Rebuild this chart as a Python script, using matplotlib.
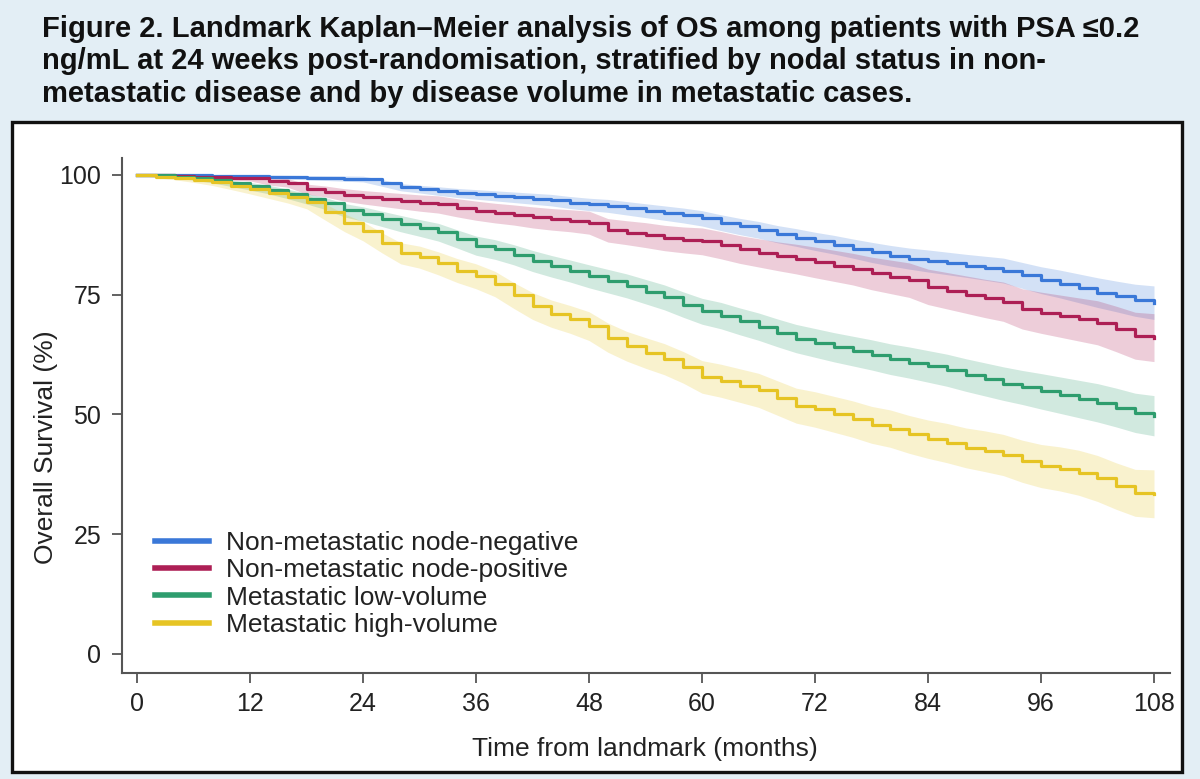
import numpy as np
import matplotlib
matplotlib.use("Agg")
import matplotlib.pyplot as plt
from matplotlib.patches import Rectangle

plt.rcParams['font.family'] = ['Liberation Sans', 'DejaVu Sans']

# time grid (months from landmark), survival
months = list(range(0, 110, 2))

node_neg = [100, 100, 100, 99.9, 99.8, 99.7, 99.7, 99.6, 99.5, 99.4, 99.3, 99.2, 99.1, 98.3,
            97.4, 97.0, 96.6, 96.2, 95.9, 95.6, 95.3, 95.0, 94.7, 94.2, 93.8, 93.5, 93.0, 92.5,
            92.0, 91.5, 90.9, 90.0, 89.2, 88.5, 87.6, 86.9, 86.1, 85.4, 84.6, 83.8, 83.1, 82.5,
            82.0, 81.5, 81.0, 80.5, 80.0, 79.0, 78.0, 77.2, 76.3, 75.4, 74.6, 73.8, 73.3]
node_pos = [100, 100, 99.8, 99.6, 99.5, 99.4, 99.3, 98.6, 98.3, 97.0, 96.5, 95.8, 95.3, 94.9,
            94.5, 94.1, 93.8, 93.1, 92.5, 92.0, 91.6, 91.1, 90.7, 90.4, 90.0, 88.4, 87.9, 87.4,
            86.8, 86.4, 86.1, 85.3, 84.4, 83.7, 83.0, 82.4, 81.7, 81.0, 80.3, 79.4, 78.7, 78.0,
            76.6, 75.8, 75.0, 74.2, 73.5, 72.0, 71.2, 70.5, 69.8, 69.1, 67.8, 66.4, 66.0]
low_vol = [100, 99.9, 99.6, 99.3, 98.8, 98.2, 97.6, 96.9, 96.0, 95.0, 94.0, 92.6, 91.8, 90.8,
           89.8, 88.9, 88.0, 86.6, 85.2, 84.4, 83.3, 82.0, 80.9, 79.9, 78.8, 77.8, 76.8, 75.6,
           74.4, 72.9, 71.5, 70.6, 69.4, 68.3, 67.0, 65.8, 64.9, 64.0, 63.2, 62.4, 61.5, 60.8,
           60.0, 59.2, 58.2, 57.3, 56.4, 55.6, 54.8, 54.0, 53.2, 52.4, 51.4, 50.3, 49.7]
high_vol = [100, 99.6, 99.3, 98.9, 98.4, 97.7, 97.0, 96.2, 95.4, 94.4, 92.2, 90.0, 88.2, 85.8,
            83.6, 82.8, 81.5, 80.0, 78.8, 77.2, 74.8, 72.6, 71.0, 69.8, 68.4, 66.0, 64.2, 62.8,
            61.5, 59.8, 57.8, 57.0, 56.0, 55.0, 53.4, 51.8, 51.0, 50.0, 49.0, 47.8, 47.0, 45.8,
            44.8, 44.0, 43.0, 42.3, 41.5, 40.2, 39.2, 38.6, 37.8, 36.6, 35.0, 33.6, 33.4]

# half width of the 95% CI bands
ci_neg = [0, 0.05, 0.1, 0.15, 0.2, 0.25, 0.3, 0.35, 0.4, 0.45, 0.5, 0.55, 0.6, 0.7, 0.75, 0.8,
          0.9, 0.95, 1.0, 1.05, 1.1, 1.15, 1.2, 1.25, 1.3, 1.35, 1.4, 1.45, 1.5, 1.55, 1.6, 1.65,
          1.7, 1.75, 1.8, 1.85, 1.9, 1.95, 2.0, 2.1, 2.15, 2.2, 2.3, 2.35, 2.4, 2.5, 2.6, 2.7,
          2.8, 2.9, 3.0, 3.1, 3.2, 3.35, 3.5]
ci_pos = [0, 0.1, 0.2, 0.3, 0.4, 0.5, 0.6, 0.75, 0.9, 1.05, 1.15, 1.3, 1.4, 1.5, 1.6, 1.7,
          1.8, 1.9, 2.0, 2.05, 2.1, 2.2, 2.25, 2.3, 2.4, 2.45, 2.5, 2.6, 2.65, 2.7, 2.8, 2.85,
          2.9, 2.95, 3.0, 3.1, 3.2, 3.25, 3.3, 3.4, 3.5, 3.6, 3.7, 3.8, 3.9, 4.0, 4.1, 4.2,
          4.3, 4.4, 4.5, 4.6, 4.75, 4.9, 5.0]
ci_low = [0, 0.15, 0.3, 0.4, 0.5, 0.65, 0.8, 0.9, 1.0, 1.1, 1.25, 1.4, 1.5, 1.6, 1.7, 1.75,
          1.85, 1.9, 2.0, 2.05, 2.1, 2.2, 2.25, 2.3, 2.4, 2.45, 2.5, 2.55, 2.6, 2.65, 2.7, 2.75,
          2.8, 2.85, 2.9, 2.95, 3.0, 3.05, 3.1, 3.15, 3.2, 3.25, 3.3, 3.35, 3.4, 3.45, 3.5, 3.55,
          3.7, 3.8, 3.9, 4.0, 4.05, 4.1, 4.2]
ci_high = [0, 0.2, 0.35, 0.5, 0.65, 0.8, 1.0, 1.15, 1.3, 1.5, 1.7, 1.85, 2.0, 2.1, 2.2, 2.3,
           2.4, 2.5, 2.6, 2.65, 2.7, 2.8, 2.85, 2.9, 3.0, 3.05, 3.1, 3.2, 3.25, 3.3, 3.4, 3.45,
           3.5, 3.55, 3.6, 3.65, 3.7, 3.75, 3.8, 3.85, 3.9, 3.95, 4.0, 4.1, 4.15, 4.25, 4.3, 4.4,
           4.5, 4.6, 4.7, 4.8, 4.85, 4.9, 5.0]

labels = ['Non-metastatic node-negative', 'Non-metastatic node-positive',
          'Metastatic low-volume', 'Metastatic high-volume']
colors = ['#3a78d8', '#ad1f55', '#2e9d6e', '#e6c424']
xticks = [0, 12, 24, 36, 48, 60, 72, 84, 96, 108]
yticks = [0, 25, 50, 75, 100]

title = ('Figure 2. Landmark Kaplan\u2013Meier analysis of OS among patients with PSA \u22640.2\n'
         'ng/mL at 24 weeks post-randomisation, stratified by nodal status in non-\n'
         'metastatic disease and by disease volume in metastatic cases.')

fig = plt.figure(figsize=(12, 7.79), dpi=100)
fig.patch.set_facecolor('#e3eef5')

# white panel with black frame
panel = Rectangle((0.010, 0.009), 0.975, 0.834, transform=fig.transFigure,
                  facecolor='white', edgecolor='#111111', linewidth=2.4, zorder=0)
fig.patches.append(panel)

fig.text(0.035, 0.981, title, ha='left', va='top', fontsize=21, fontweight='bold',
         color='#111111', linespacing=1.2)

ax = fig.add_axes([0.1017, 0.1361, 0.975 - 0.1017, 0.7972 - 0.1361])
ax.set_facecolor('none')
ax.set_zorder(2)

series = [node_neg, node_pos, low_vol, high_vol]
cis = [ci_neg, ci_pos, ci_low, ci_high]
t = np.array(months)
for surv, hw, col in zip(series, cis, colors):
    s = np.array(surv)
    h = np.array(hw)
    ax.fill_between(t, s - h, s + h, color=col, alpha=0.22, linewidth=0)
for surv, col, lab in zip(series, colors, labels):
    ax.plot(t, surv, drawstyle='steps-post', color=col, linewidth=2.3, label=lab)

ax.set_xlim(-1.6, 109.7)
ax.set_ylim(-4, 103.5)
ax.set_xticks(xticks)
ax.set_yticks(yticks)
for side in ['top', 'right']:
    ax.spines[side].set_visible(False)
for side in ['left', 'bottom']:
    ax.spines[side].set_color('#555555')
    ax.spines[side].set_linewidth(1.5)
ax.tick_params(axis='both', direction='out', length=7, width=1.3, color='#555555',
               labelsize=18, labelcolor='#222222')
ax.tick_params(axis='y', pad=8)
ax.tick_params(axis='x', pad=7)

fig.text(0.038, 0.426, 'Overall Survival (%)', rotation=90, ha='center', va='center',
         fontsize=19, color='#222222')
fig.text(0.5375, 0.038, 'Time from landmark (months)', ha='center', va='center',
         fontsize=19, color='#222222')

leg = ax.legend(loc='upper left', bbox_to_anchor=(0.129, 0.318), bbox_transform=fig.transFigure,
                frameon=False, fontsize=19, handlelength=2.05, handletextpad=0.65,
                labelspacing=0.12, borderpad=0, borderaxespad=0)
for line in leg.get_lines():
    line.set_linewidth(4)
for txt in leg.get_texts():
    txt.set_color('#222222')

fig.savefig('out.png', dpi=100, facecolor=fig.get_facecolor())
